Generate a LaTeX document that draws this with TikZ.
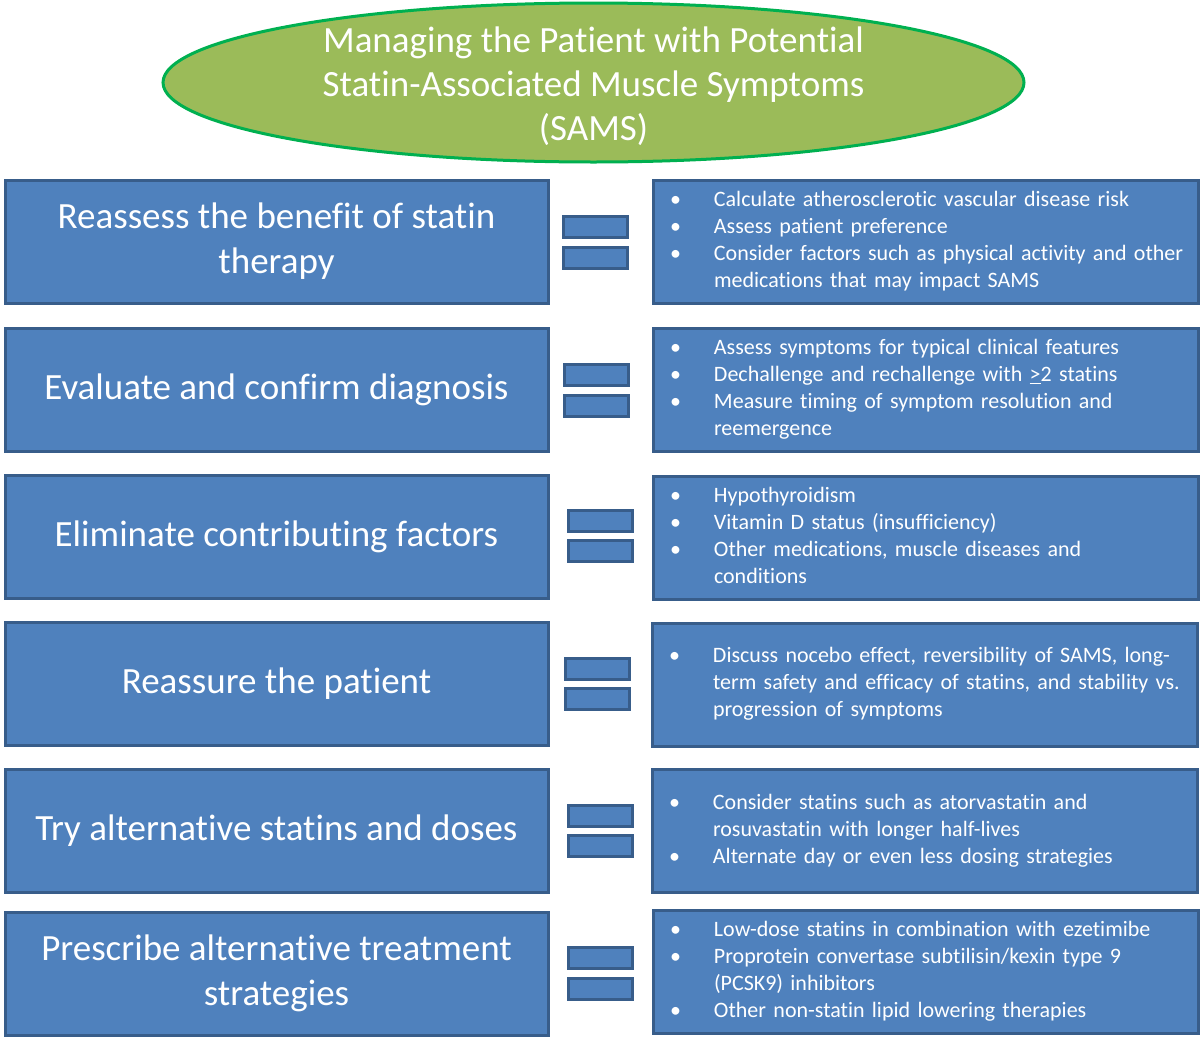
\documentclass[tikz,border=0pt]{standalone}
\usepackage{fontspec}
\setmainfont{Carlito}[Ligatures=NoCommon]
\usetikzlibrary{shapes.geometric}
\definecolor{boxfill}{HTML}{4F81BD}
\definecolor{boxline}{HTML}{385D8A}
\definecolor{ovalfill}{HTML}{9BBB59}
\definecolor{ovalline}{HTML}{00B050}
\tikzset{
  leftbox/.style={draw=boxline, line width=3pt, fill=boxfill, text=white,
    minimum width=543pt, minimum height=123pt, align=center,
    font=\fontsize{37}{45}\selectfont, inner sep=0pt},
  rightbox/.style={draw=boxline, line width=3pt, fill=boxfill, text=white,
    minimum width=543pt, minimum height=123pt, text width=511pt, inner xsep=17pt,
    align=left, font=\fontsize{22}{27}\selectfont},
  bar/.style={draw=boxline, line width=3pt, fill=boxfill,
    minimum width=64pt, minimum height=21pt, inner sep=0pt},
  title/.style={ellipse, draw=ovalline, line width=3pt, fill=ovalfill,
    minimum width=861pt, minimum height=159pt, inner sep=0pt},
  titletext/.style={text=white, align=center, inner sep=0pt,
    font=\fontsize{37}{44}\selectfont}
}
\newcommand{\bl}{\textbullet}
\newenvironment{blist}{\begin{tabular}{@{}p{44pt}@{}l@{}}}{\end{tabular}}
\begin{document}
\begin{tikzpicture}[x=1pt,y=-1pt]
\useasboundingbox (0,0) rectangle (1200,1039);
\node[title] (t) at (593.5,82.5) {};
\node[titletext] (tt) at (593.5,86) {Managing the Patient with Potential\\Statin-Associated Muscle Symptoms\\(SAMS)};

\node[leftbox] (l1) at (276.5,241.5) {Reassess the benefit of statin\\therapy};
\node[leftbox] (l2) at (276.5,390) {Evaluate and confirm diagnosis};
\node[leftbox] (l3) at (276.5,536.5) {Eliminate contributing factors};
\node[leftbox] (l4) at (276.5,683.5) {Reassure the patient};
\node[leftbox] (l5) at (276.5,831) {Try alternative statins and doses};
\node[leftbox] (l6) at (276.5,973.5) {Prescribe alternative treatment\\strategies};

\node[bar] (e1a) at (595.5,226.5) {};
\node[bar] (e1b) at (595.5,257.5) {};
\node[bar] (e2a) at (596,375) {};
\node[bar] (e2b) at (596,405.5) {};
\node[bar] (e3a) at (600.5,521) {};
\node[bar] (e3b) at (600.5,551) {};
\node[bar] (e4a) at (597,668.5) {};
\node[bar] (e4b) at (597,699) {};
\node[bar] (e5a) at (600,816) {};
\node[bar] (e5b) at (600,846) {};
\node[bar] (e6a) at (600.5,958) {};
\node[bar] (e6b) at (600.5,989) {};

\node[rightbox] (r1) at (925.5,241.5) {\begin{blist}
\bl & Calculate atherosclerotic vascular disease risk\\
\bl & Assess patient preference\\
\bl & Consider factors such as physical activity and other\\
    & medications that may impact SAMS
\end{blist}};
\node[rightbox] (r2) at (925.5,390) {\begin{blist}
\bl & Assess symptoms for typical clinical features\\
\bl & Dechallenge and rechallenge with \underline{>}2 statins\\
\bl & Measure timing of symptom resolution and\\
    & reemergence
\end{blist}};
\node[rightbox] (r3) at (925.5,538) {\begin{blist}
\bl & Hypothyroidism\\
\bl & Vitamin D status (insufficiency)\\
\bl & Other medications, muscle diseases and\\
    & conditions
\end{blist}};
\node[rightbox] (r4) at (924.5,684.5) {\begin{blist}
\bl & Discuss nocebo effect, reversibility of SAMS, long-\\
    & term safety and efficacy of statins, and stability vs.\\
    & progression of symptoms
\end{blist}};
\node[rightbox] (r5) at (924.5,831) {\begin{blist}
\bl & Consider statins such as atorvastatin and\\
    & rosuvastatin with longer half-lives\\
\bl & Alternate day or even less dosing strategies
\end{blist}};
\node[rightbox] (r6) at (925.5,971.5) {\begin{blist}
\bl & Low-dose statins in combination with ezetimibe\\
\bl & Proprotein convertase subtilisin/kexin type 9\\
    & (PCSK9) inhibitors\\
\bl & Other non-statin lipid lowering therapies
\end{blist}};
\end{tikzpicture}
\end{document}
